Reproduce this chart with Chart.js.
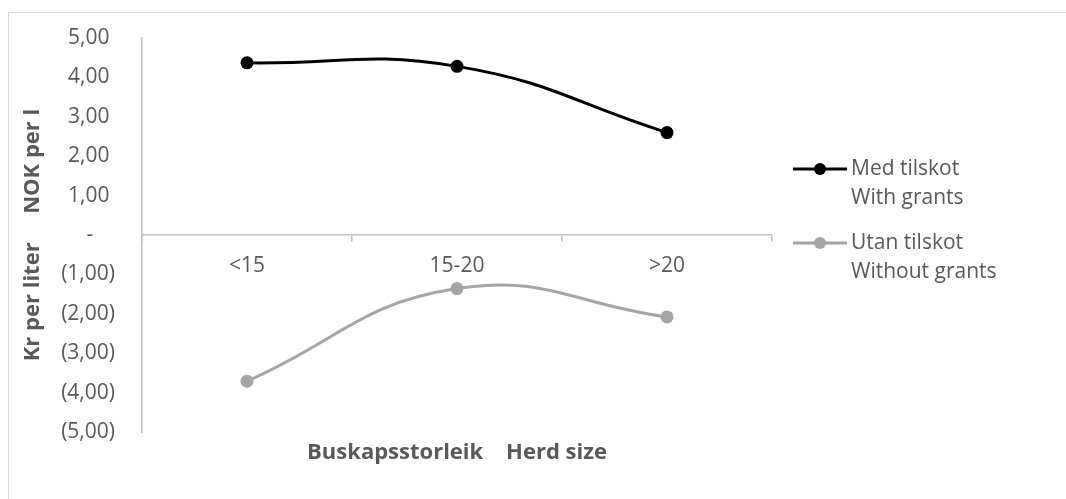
<!DOCTYPE html>
<html lang="no">
<head>
  <meta charset="UTF-8" />
  <title>Buskapsstorleik - Herd size</title>
  <style>
    body { margin: 0; background: #ffffff; }
    #frame { position: absolute; left: 8px; top: 12px; width: 1100px; height: 520px; border: 1px solid #d9d9d9; }
    #wrap { position: absolute; left: 0; top: 0; width: 1066px; height: 499px; }
  </style>
  <script src="https://cdn.jsdelivr.net/npm/chart.js"></script>
</head>
<body>
  <div id="frame"></div>
  <div id="wrap"><canvas id="chart"></canvas></div>

  <script>
    const categories = ['<15', '15-20', '>20'];
    const withGrants = [4.37, 4.28, 2.60];
    const withoutGrants = [-3.71, -1.36, -2.08];
    const seriesNames = [['Med tilskot', 'With grants'], ['Utan tilskot', 'Without grants']];
    const seriesColors = ['#000000', '#a5a5a5'];
    const xTitle = 'Buskapsstorleik    Herd size';
    const yTitle = 'Kr per liter     NOK per l';

    const textColor = '#595959';
    const axisColor = '#bfbfbf';
    const fontFamily = "'Open Sans', 'Noto Sans', sans-serif";

    Chart.defaults.font.family = fontFamily;
    Chart.defaults.color = textColor;

    function fmt(v) {
      if (v === 0) return '-    ';
      const s = Math.abs(v).toFixed(2).replace('.', ',');
      return v < 0 ? '(' + s + ')' : s + ' ';
    }

    // legend drawn next to the plot, two lines per series
    const sideLegend = {
      id: 'sideLegend',
      afterDraw(chart) {
        const ctx = chart.ctx;
        const x0 = 793, rows = [169, 243];
        ctx.save();
        chart.data.datasets.forEach((ds, i) => {
          const y = rows[i];
          ctx.strokeStyle = ds.borderColor;
          ctx.lineWidth = 3;
          ctx.beginPath();
          ctx.moveTo(x0, y);
          ctx.lineTo(x0 + 54, y);
          ctx.stroke();
          ctx.fillStyle = ds.borderColor;
          ctx.beginPath();
          ctx.arc(x0 + 27, y, 6, 0, Math.PI * 2);
          ctx.fill();
          ctx.fillStyle = textColor;
          ctx.font = '21px ' + fontFamily;
          ctx.textBaseline = 'middle';
          ctx.textAlign = 'left';
          seriesNames[i].forEach((t, j) => ctx.fillText(t, x0 + 58, y + j * 29));
        });
        ctx.restore();
      }
    };

    new Chart(document.getElementById('chart'), {
      type: 'line',
      data: {
        labels: categories,
        datasets: [
          {
            label: seriesNames[0].join(' '),
            data: withGrants,
            borderColor: seriesColors[0],
            backgroundColor: seriesColors[0],
            borderWidth: 3,
            pointRadius: 6.5,
            pointBorderWidth: 0,
            tension: 0.45
          },
          {
            label: seriesNames[1].join(' '),
            data: withoutGrants,
            borderColor: seriesColors[1],
            backgroundColor: seriesColors[1],
            borderWidth: 3,
            pointRadius: 6.5,
            pointBorderWidth: 0,
            tension: 0.45
          }
        ]
      },
      options: {
        responsive: true,
        maintainAspectRatio: false,
        animation: false,
        layout: { padding: { top: 38, right: 294, bottom: 0, left: 0 } },
        plugins: {
          legend: { display: false },
          tooltip: { enabled: false }
        },
        scales: {
          x: {
            position: { y: 0 },
            offset: true,
            grid: { display: true, drawOnChartArea: false, drawTicks: true, tickLength: 6, offset: true, color: axisColor, lineWidth: 1.5 },
            border: { display: true, color: axisColor, width: 1.5 },
            ticks: { padding: 12, font: { size: 21 }, color: textColor }
          },
          x2: {
            type: 'category',
            position: 'bottom',
            offset: true,
            grid: { display: false },
            border: { display: false },
            ticks: { display: false },
            title: { display: true, text: xTitle, font: { size: 22, weight: 'bold' }, color: textColor, padding: { top: 0, bottom: 33 } },
            afterFit(scale) { scale.height = 67; }
          },
          y: {
            min: -5,
            max: 5,
            ticks: { stepSize: 1, padding: 19, font: { size: 21 }, color: textColor, callback: v => fmt(v) },
            grid: { display: false },
            border: { display: true, color: axisColor, width: 1.5 },
            title: { display: true, text: yTitle, font: { size: 22, weight: 'bold' }, color: textColor, padding: { top: 20, bottom: 0 } },
            afterFit(scale) { scale.width = 142; }
          }
        }
      },
      plugins: [sideLegend]
    });
  </script>
</body>
</html>
